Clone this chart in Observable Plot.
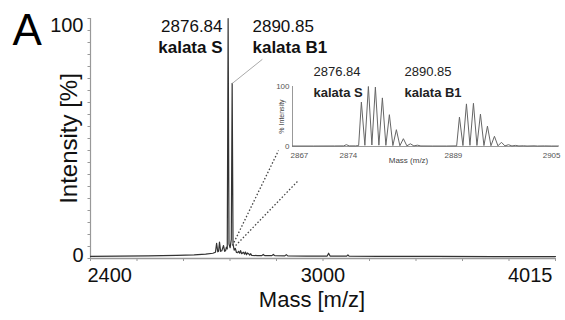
<!DOCTYPE html>
<html>
<head>
<meta charset="utf-8">
<script src="https://cdn.jsdelivr.net/npm/d3@7"></script>
<script src="https://cdn.jsdelivr.net/npm/@observablehq/plot@0.6"></script>
<style>
  html, body { margin: 0; padding: 0; background: #fff; }
  #wrap { position: relative; width: 565px; height: 320px; overflow: hidden; }
  #wrap svg { position: absolute; }
</style>
</head>
<body>
<div id="wrap"></div>
<script>
// ---------- Data ----------
// Full spectrum (mass, intensity %)
const mainMass = [2400,2500,2600,2700,2760,2800,2825,2834,2838,2842,2845,2848,2852,2856,2862,2866,2869,2872,2875,2878,2881,2885,2889,2892,2895,2899,2903,2907,2911,2914,2918,2921,2925,2931,2935,2938,2942,2945,2949,2953,2956,2960,2980,2995,3000,3005,3030,3035,3040,3075,3080,3085,3150,3222,3227,3232,3290,3294,3298,3400,3600,3800,4015];
const mainIntensity = [0.9,1.0,1.1,1.3,1.5,1.8,2.2,2.6,6.3,2.8,3.0,6.8,3.0,3.2,5.4,3.0,3.2,4.7,4.0,100,6,4.5,8,73,6,3.5,4.2,2.5,2.4,3.0,2.2,3.3,2.0,2.6,1.8,2.7,1.6,2.3,2.0,1.4,2.0,1.3,1.2,1.2,1.7,1.2,1.2,1.7,1.2,1.1,1.6,1.1,1.0,1.0,2.2,1.0,1.0,1.5,1.0,0.9,0.9,0.8,0.8];

// Zoomed isotope region (mass, intensity %)
const insetMass = [2867,2870,2873,2874.3,2874.7,2875.1,2876.0,2876.45,2876.84,2877.34,2877.84,2878.34,2878.84,2879.34,2879.84,2880.34,2880.84,2881.34,2881.84,2882.34,2882.84,2883.34,2883.84,2884.34,2884.84,2885.34,2887,2889,2890.45,2890.85,2891.35,2891.85,2892.35,2892.85,2893.35,2893.85,2894.35,2894.85,2895.35,2895.85,2896.35,2896.85,2897.35,2897.85,2898.35,2898.85,2899.35,2900,2900.5,2901.5,2902,2903,2904,2905];
const insetIntensity = [0.8,0.8,0.9,1.0,3.0,1.0,1.0,1.5,74,2,100,2.5,99,2.2,81,2,53,1.6,28,1.3,13,1.1,4.5,1.0,2.2,0.9,0.8,0.8,1.0,49,1.6,71,2,72,1.8,54,1.6,34,1.3,17,1.1,7,1.0,3,0.9,1.8,0.9,1.2,0.8,1.1,0.8,1.0,0.8,0.8];

// Axis labels / ticks
const xTickValues = [2400, 3207.5, 4015];
const xTickLabels = ["2400", "3000", "4015"];
const xMinorTicks = d3.range(0, 11).map(k => 2400 + k * 161.5);
const yMinorTicks = d3.range(0, 101, 5);
const insetTickValues = [2867, 2874, 2889, 2905];

// Peak annotations
const peakLabels = ["2876.84", "2890.85"];
const peakNames = ["kalata S", "kalata B1"];

const FONT = "'Liberation Sans', Arial, Helvetica, sans-serif";

const mainData = mainMass.map((m, i) => ({mass: m, intensity: mainIntensity[i]}));
const insetData = insetMass.map((m, i) => ({mass: m, intensity: insetIntensity[i]}));
const xLab = xTickValues.map((v, i) => ({v, label: xTickLabels[i]}));

// ---------- Main chart ----------
const main = Plot.plot({
  width: 565,
  height: 320,
  marginLeft: 90,
  marginRight: 10,
  marginTop: 18,
  marginBottom: 62,
  x: {domain: [2400, 4015]},
  y: {domain: [0, 100]},
  style: {fontFamily: FONT, background: "transparent", overflow: "visible", color: "#111"},
  marks: [
    Plot.ruleX([2400], {stroke: "#999", strokeWidth: 1.2}),
    Plot.ruleY([0], {stroke: "#999", strokeWidth: 1.6}),
    Plot.axisY({ticks: yMinorTicks, tickSize: 2.5, tickFormat: () => "", stroke: "#999", label: null}),
    Plot.axisX({ticks: xMinorTicks, tickSize: 3, tickFormat: () => "", stroke: "#999", label: null}),
    // tick labels
    Plot.text(xLab.slice(0, 1), {x: "v", text: "label", frameAnchor: "bottom", textAnchor: "start", lineAnchor: "top", dy: 9, dx: -3, fontSize: 20, fill: "#111"}),
    Plot.text(xLab.slice(1, 2), {x: "v", text: "label", frameAnchor: "bottom", textAnchor: "middle", lineAnchor: "top", dy: 9, fontSize: 20, fill: "#111"}),
    Plot.text(xLab.slice(2, 3), {x: "v", text: "label", frameAnchor: "bottom", textAnchor: "end", lineAnchor: "top", dy: 9, dx: -3, fontSize: 20, fill: "#111"}),
    Plot.text([100], {y: d => d, text: d => String(d), frameAnchor: "left", textAnchor: "end", lineAnchor: "middle", dx: -7, dy: 7, fontSize: 20, fill: "#111"}),
    Plot.text([0], {y: d => d, text: d => String(d), frameAnchor: "left", textAnchor: "end", lineAnchor: "middle", dx: -7, dy: -3, fontSize: 20, fill: "#111"}),
    // axis titles
    Plot.text(["Mass [m/z]"], {frameAnchor: "bottom", text: d => d, textAnchor: "middle", lineAnchor: "top", dy: 33, dx: -11, fontSize: 22, fill: "#111"}),
    Plot.text(["Intensity [%]"], {frameAnchor: "left", text: d => d, rotate: -90, textAnchor: "middle", lineAnchor: "middle", dx: -21, fontSize: 24, fill: "#111"}),
    Plot.text(["A"], {frameAnchor: "top-left", text: d => d, textAnchor: "start", lineAnchor: "top", dx: -78, dy: -5, fontSize: 44, fill: "#000"}),
    // dotted zoom connectors
    Plot.link([0], {x1: 2893, y1: 5.4, x2: 3053, y2: 45, stroke: "#444", strokeWidth: 1.3, strokeDasharray: "1.5,2"}),
    Plot.link([0], {x1: 2904, y1: 5.4, x2: 3122, y2: 32.5, stroke: "#444", strokeWidth: 1.3, strokeDasharray: "1.5,2"}),
    // spectrum
    Plot.line(mainData, {x: "mass", y: "intensity", stroke: "#333", strokeWidth: 1.2}),
    // leader line for kalata B1
    Plot.link([0], {x1: 2893, y1: 73, x2: 2997, y2: 83, stroke: "#aaa", strokeWidth: 1}),
    // peak annotations
    Plot.text([peakLabels[0]], {x: 2858.5, y: 94.2, text: d => d, textAnchor: "end", lineAnchor: "bottom", fontSize: 17, fill: "#111"}),
    Plot.text([peakNames[0]], {x: 2858.5, y: 85.8, text: d => d, textAnchor: "end", lineAnchor: "bottom", fontSize: 17, fontWeight: "bold", fill: "#111"}),
    Plot.text([peakLabels[1]], {x: 2962.6, y: 94.2, text: d => d, textAnchor: "start", lineAnchor: "bottom", fontSize: 17, fill: "#111"}),
    Plot.text([peakNames[1]], {x: 2962.6, y: 85.8, text: d => d, textAnchor: "start", lineAnchor: "bottom", fontSize: 17, fontWeight: "bold", fill: "#111"})
  ]
});
main.style.left = "0px";
main.style.top = "0px";

// ---------- Inset ----------
const inset = Plot.plot({
  width: 303,
  height: 115,
  marginLeft: 30,
  marginRight: 7,
  marginTop: 31,
  marginBottom: 24,
  x: {domain: [2867, 2905], axis: null},
  y: {domain: [0, 100], axis: null},
  style: {fontFamily: FONT, background: "transparent", overflow: "visible", color: "#333"},
  marks: [
    Plot.ruleX([2867], {stroke: "#999", strokeWidth: 1}),
    Plot.ruleY([0], {stroke: "#999", strokeWidth: 1}),
    Plot.line(insetData, {x: "mass", y: "intensity", stroke: "#666", strokeWidth: 1}),
    Plot.text(insetTickValues.slice(0, 3), {x: d => d, text: d => String(d), frameAnchor: "bottom", textAnchor: "start", lineAnchor: "top", dy: 6, dx: -2, fontSize: 8, fill: "#555"}),
    Plot.text(insetTickValues.slice(3), {x: d => d, text: d => String(d), frameAnchor: "bottom", textAnchor: "end", lineAnchor: "top", dy: 6, dx: 2, fontSize: 8, fill: "#555"}),
    Plot.text([100, 0], {y: d => d, text: d => String(d), frameAnchor: "left", textAnchor: "end", lineAnchor: "middle", dx: -3, fontSize: 8, fill: "#555"}),
    Plot.text(["Mass (m/z)"], {frameAnchor: "bottom", text: d => d, textAnchor: "middle", lineAnchor: "top", dy: 11, dx: -17, fontSize: 8, fill: "#444"}),
    Plot.text(["% Intensity"], {frameAnchor: "left", text: d => d, rotate: -90, textAnchor: "middle", lineAnchor: "middle", dx: -11, fontSize: 7, fill: "#444"}),
    Plot.text([peakLabels[0]], {x: 2870, y: 118.3, text: d => d, textAnchor: "start", lineAnchor: "bottom", fontSize: 13, fill: "#222"}),
    Plot.text([peakNames[0]], {x: 2870, y: 81.7, text: d => d, textAnchor: "start", lineAnchor: "bottom", fontSize: 13, fontWeight: "bold", fill: "#222"}),
    Plot.text([peakLabels[1]], {x: 2883, y: 118.3, text: d => d, textAnchor: "start", lineAnchor: "bottom", fontSize: 13, fill: "#222"}),
    Plot.text([peakNames[1]], {x: 2883, y: 81.7, text: d => d, textAnchor: "start", lineAnchor: "bottom", fontSize: 13, fontWeight: "bold", fill: "#222"})
  ]
});
inset.style.left = "262px";
inset.style.top = "55px";

const wrap = document.getElementById("wrap");
wrap.appendChild(main);
wrap.appendChild(inset);
</script>
</body>
</html>
